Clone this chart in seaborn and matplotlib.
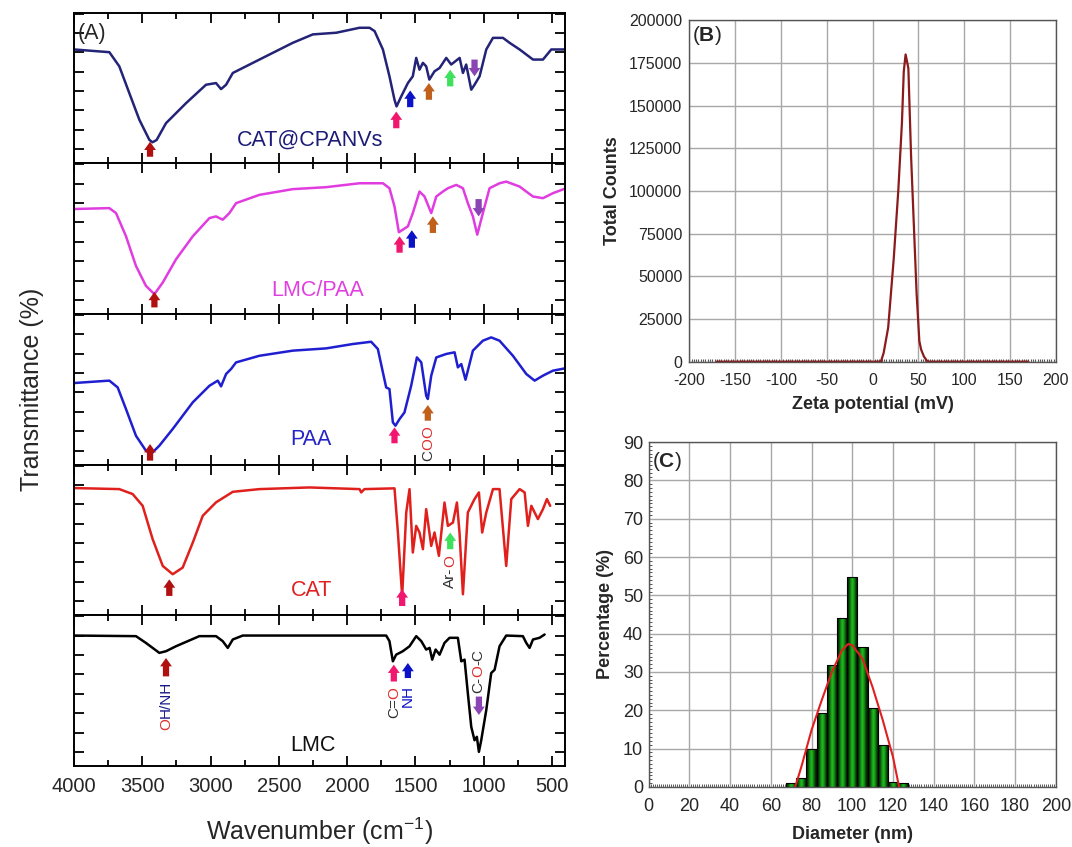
import numpy as np
import pandas as pd
import matplotlib
matplotlib.use("Agg")
import matplotlib.pyplot as plt
import seaborn as sns
from matplotlib.colors import LinearSegmentedColormap
from matplotlib.ticker import MultipleLocator, NullFormatter

sns.set_style("ticks")
plt.rcParams['font.family'] = ['Liberation Sans', 'DejaVu Sans']
plt.rcParams['mathtext.fontset'] = 'custom'
plt.rcParams['mathtext.rm'] = 'Liberation Sans'
plt.rcParams['mathtext.bf'] = 'Liberation Sans:bold'
plt.rcParams['mathtext.default'] = 'regular'

# ---------------- Panel A: FTIR spectra (arbitrary transmittance units) ----------------
cat_cpanvs_wn = [4000,3741,3668,3595,3521,3448,3425,3395,3326,3179,3033,2960,2923,2886,2837,2642,2398,2251,2080,1909,
                 1836,1799,1738,1690,1653,1638,1604,1555,1519,1494,1470,1445,1421,1398,1360,1323,1274,1238,1176,1152,
                 1128,1091,1067,1030,981,932,859,810,737,639,566,505,410]
cat_cpanvs_t = [75.6,73.8,64.4,46.7,28.9,15.6,14,15.5,26.7,40,52.2,53.3,49.3,52.2,60,68.9,80,85.6,86.7,90,
                90,87.8,75.6,57.8,42.2,37.8,44.4,53.3,57.8,70,62.2,66.7,64.4,55.6,61.1,63.3,70,65.6,70,60,
                65.6,48.9,52.2,57.8,75.6,83.3,83.3,80,75.6,68.9,68.9,75.6,75.6]

lmc_paa_wn = [4000,3741,3692,3619,3546,3473,3411,3350,3253,3130,3008,2960,2911,2862,2813,2642,2398,2154,1909,1738,
              1690,1653,1621,1592,1555,1519,1470,1433,1384,1347,1299,1262,1201,1152,1116,1079,1047,1006,957,884,
              835,737,639,566,493,414]
lmc_paa_t = [69.7,70.3,67,51.6,31.9,18.7,13.2,20.9,36.3,51.6,63.7,64.8,62.6,67,73.6,79.1,82.9,84.2,86.8,86.8,
             83.5,71.4,54.3,56,58.2,67,81.3,78,67,78,81.3,83.5,85.7,83.5,73.6,64.8,52.7,67,83.5,86.8,
             87.9,84.6,78,76.9,80.2,82.9]

paa_wn = [4000,3741,3680,3619,3546,3473,3436,3375,3277,3130,3008,2947,2923,2886,2850,2813,2642,2398,2154,1958,
          1824,1775,1738,1714,1690,1665,1646,1616,1580,1531,1489,1457,1421,1409,1384,1347,1274,1213,1189,1164,
          1133,1079,1006,945,884,786,688,627,566,493,407]
paa_t = [54.2,55.8,51.3,36.9,19.2,9.3,7.1,12.6,23.7,41.4,52.4,55.8,52,60.2,63.5,67.9,72.3,75.7,77.2,80.1,
         81.6,76.8,61.3,51.3,50.2,28.1,25.9,30.3,34.7,52.4,71.2,67.9,45.8,43.6,59.1,71.2,73.5,74.6,64.6,66.8,
         56.4,75.7,82.3,84.5,82.3,72.3,60.2,55.8,59.1,62.4,63.9]

cat_wn = [4000,3668,3570,3497,3424,3350,3277,3204,3130,3057,2960,2837,2642,2276,1909,1897,1873,1653,1628,1597,
          1567,1543,1519,1494,1470,1445,1421,1384,1360,1328,1287,1262,1225,1196,1177,1152,1116,1067,1035,1011,
          981,932,884,835,798,737,700,676,651,603,566,537,513]
cat_t = [84.5,83.8,80.5,72.7,50.6,32.8,27.3,31.7,48.3,66.1,75,82,83.8,84.9,83.8,81.6,83.8,84.3,55,12.9,
         68.3,83.8,41.7,59.4,55,43.9,70.5,46.1,55,39.5,74.9,59.4,61.6,74.9,55,14,68.3,77.2,81.6,55,
         68.3,83.8,83.8,32.8,77.2,83.8,81.6,59.4,72.7,63.9,70.5,77.2,72.7]

lmc_wn = [4000,3546,3473,3375,3326,3253,3082,2960,2911,2874,2837,2764,1714,1690,1665,1641,1592,1543,1494,1457,
          1421,1396,1377,1352,1323,1287,1250,1189,1164,1140,1116,1091,1067,1050,1035,1018,981,945,920,884,
          835,713,688,664,639,591,554]
lmc_t = [86.6,86.2,81.7,75.1,76.2,79.5,86.2,86.2,82.9,78.4,84,86.6,86.6,82.9,69.5,73.9,76.2,79.5,86.2,82.9,
         77.3,78.4,70.6,77.3,73.9,81.7,85.1,85.1,69.5,70.6,48.3,26,17.1,19.4,9.4,17.1,37.2,61.7,63.9,79.5,
         86.6,86.2,81.7,78.4,84,85.1,87.3]

sample_names = ["CAT@CPANVs", "LMC/PAA", "PAA", "CAT", "LMC"]
wn_tick_values = [4000, 3500, 3000, 2500, 2000, 1500, 1000, 500]

# ---------------- Panel B: zeta potential ----------------
zeta_mv = [-170, 9, 12, 17, 23, 28, 32, 34, 36, 39, 42, 45, 48, 51, 53, 56, 60, 170]
zeta_counts = [0, 0, 5000, 20000, 60000, 100000, 140000, 170000, 180000, 172000, 120000, 80000,
               40000, 12000, 7000, 3000, 0, 0]

# ---------------- Panel C: size distribution ----------------
diam_nm = [70, 75, 80, 85, 90, 95, 100, 105, 110, 115, 120, 125]
diam_pct = [1, 2.2, 9.8, 19.4, 31.8, 44, 54.9, 36.6, 20.5, 10.9, 1.3, 0.9]
fit_nm = [72, 75, 80, 85, 90, 95, 98, 100, 105, 110, 115, 120, 123]
fit_pct = [0, 5.2, 14.8, 22.6, 30, 35.7, 37.3, 37, 33.5, 26, 17.4, 7.8, 0]

# ======================================================================
fig = plt.figure(figsize=(10.72, 8.47), dpi=100)

DRED, PINK, BLUE, BROWN, GREEN, PURPLE = "#b01010", "#f0186e", "#0c12c8", "#c0601c", "#3ee05c", "#8a44b4"
TXT_RED, TXT_DARK, TXT_NAVY = "#e03030", "#303030", "#1a1a8a"

line_colors = ["#232378", "#e03ce0", "#1f1fd0", "#e0201c", "#000000"]
spectra = [(cat_cpanvs_wn, cat_cpanvs_t), (lmc_paa_wn, lmc_paa_t), (paa_wn, paa_t), (cat_wn, cat_t), (lmc_wn, lmc_t)]
label_pos = [(2271, 15.6), (2214, 15.4), (2263, 17.0), (2263, 16.2), (2250, 13.8)]
label_colors = ["#1c1c78", "#e040e0", "#2424c8", "#e02020", "#111111"]

arrows = [
    [(3443, 4.4, 14.4, DRED), (1640, 23.3, 34.4, PINK), (1538, 37.3, 48.4, BLUE),
     (1401, 42.2, 53.3, BROWN), (1245, 51.1, 62.2, GREEN), (1067, 68.9, 57.8, PURPLE)],
    [(3411, 4.4, 14.7, DRED), (1616, 40.7, 51.6, PINK), (1526, 44, 55.6, BLUE),
     (1372, 53.8, 64.8, BROWN), (1037, 76.3, 64.8, PURPLE)],
    [(3443, 2.7, 13.7, DRED), (1653, 14.2, 24.8, PINK), (1409, 29.2, 39.6, BROWN)],
    [(3302, 12.9, 23.9, DRED), (1597, 6.2, 17.3, PINK), (1245, 43.9, 55, GREEN)],
    [(3326, 59.5, 71.7, DRED), (1658, 56.1, 67.3, PINK), (1555, 58.4, 68.4, BLUE), (1035, 46.1, 33.9, PURPLE)],
]

vtexts = [
    [],
    [],
    [(1409, 2.7, [("C", TXT_DARK), ("O", TXT_RED), ("O", TXT_RED)])],
    [(1245, 18.4, [("Ar-", TXT_DARK), ("O", TXT_RED)])],
    [(3326, 23.8, [("O", TXT_RED), ("H/NH", TXT_NAVY)]),
     (1658, 31.6, [("C=", TXT_DARK), ("O", TXT_RED)]),
     (1555, 39.4, [("NH", BLUE)]),
     (1040, 48.3, [("C-", TXT_DARK), ("O", TXT_RED), ("-C", TXT_DARK)])],
]


def vertical_multicolor(ax, x, y, parts, size=11):
    prev = None
    for s, c in parts:
        if prev is None:
            prev = ax.text(x, y, s, color=c, rotation=90, ha="center", va="bottom", fontsize=size)
        else:
            prev = ax.annotate(s, xy=(0.5, 1.0), xycoords=prev, color=c, rotation=90,
                               ha="center", va="bottom", fontsize=size)


A_left, A_right, A_top, A_bottom = 0.069, 0.527, 0.985, 0.0956
h = (A_top - A_bottom) / 5
axesA = []
for i in range(5):
    ax = fig.add_axes([A_left, A_top - (i + 1) * h, A_right - A_left, h])
    axesA.append(ax)
    wn, tt = spectra[i]
    df = pd.DataFrame({"wn": wn, "t": tt})
    sns.lineplot(data=df, x="wn", y="t", ax=ax, color=line_colors[i], lw=1.8, estimator=None, sort=True)
    ax.set_xlim(4000, 405)
    ax.set_ylim(0, 100)
    ax.set_xticks(wn_tick_values)
    ax.xaxis.set_minor_locator(MultipleLocator(250))
    ax.set_yticks(np.arange(9.4, 100, 12.85))
    ax.tick_params(axis="both", which="both", direction="in", top=True, bottom=True, left=True, right=True,
                   color="black", width=1.3)
    ax.tick_params(axis="both", which="major", length=7)
    ax.tick_params(axis="x", which="minor", length=4)
    ax.set_yticklabels([])
    ax.set_xlabel("")
    ax.set_ylabel("")
    if i < 4:
        ax.set_xticklabels([])
    else:
        ax.set_xticklabels([str(v) for v in wn_tick_values], fontsize=14.5)
        ax.tick_params(axis="x", which="major", pad=8)
    for sp in ax.spines.values():
        sp.set_linewidth(1.4)
        sp.set_color("black")
    lx, ly = label_pos[i]
    ax.text(lx, ly, sample_names[i], color=label_colors[i], fontsize=15.5, ha="center", va="center")
    for (x, b, t, c) in arrows[i]:
        ax.annotate("", xy=(x, t), xytext=(x, b),
                    arrowprops=dict(arrowstyle="simple,head_length=0.6,head_width=0.85,tail_width=0.45",
                                    color=c, lw=0, shrinkA=0, shrinkB=0, mutation_scale=10))
    for (x, y, parts) in vtexts[i]:
        vertical_multicolor(ax, x, y, parts)

axesA[0].text(0.008, 0.86, "(A)", transform=axesA[0].transAxes, fontsize=15.5, ha="left", va="center")
fig.text(0.03, (A_top + A_bottom) / 2, "Transmittance (%)", rotation=90, fontsize=18, ha="center", va="center")
fig.text((A_left + A_right) / 2, 0.018, r"Wavenumber (cm$^{-1}$)", fontsize=18, ha="center", va="center")

# ---------------- Panel B ----------------
GRID = "#a8a8a8"
axB = fig.add_axes([0.643, 0.573, 0.985 - 0.643, 0.976 - 0.573])
dfz = pd.DataFrame({"mv": zeta_mv, "counts": zeta_counts})
sns.lineplot(data=dfz, x="mv", y="counts", ax=axB, color="#8b1a1a", lw=1.6, estimator=None, sort=False)
axB.set_xlim(-200, 200)
axB.set_ylim(0, 200000)
axB.set_xticks(np.arange(-200, 201, 50))
axB.set_yticks(np.arange(0, 200001, 25000))
axB.set_yticklabels([str(v) for v in range(0, 200001, 25000)], fontsize=11.5)
axB.set_xticklabels([str(v) for v in range(-200, 201, 50)], fontsize=11.5)
axB.xaxis.set_minor_locator(MultipleLocator(2.5))
axB.grid(True, which="major", color=GRID, lw=1)
axB.set_axisbelow(True)
axB.tick_params(axis="both", which="major", direction="in", length=0)
axB.tick_params(axis="y", which="major", pad=5)
axB.tick_params(axis="x", which="major", pad=8)
axB.tick_params(axis="x", which="minor", direction="in", length=2.5, color="#555555", width=0.8)
for sp in axB.spines.values():
    sp.set_color("#555555")
    sp.set_linewidth(1.0)
axB.set_xlabel("Zeta potential (mV)", fontsize=13, fontweight="bold", labelpad=6)
axB.set_ylabel("Total Counts", fontsize=13, fontweight="bold", labelpad=6)
axB.text(0.008, 0.955, r"($\bf{B}$)", transform=axB.transAxes, fontsize=15, ha="left", va="center")

# ---------------- Panel C ----------------
axC = fig.add_axes([0.605, 0.071, 0.985 - 0.605, 0.478 - 0.071])
dfc = pd.DataFrame({"d": diam_nm, "p": diam_pct})
sns.histplot(data=dfc, x="d", weights="p", binwidth=5, binrange=(67.5, 127.5), ax=axC,
             edgecolor="black", linewidth=0.8, alpha=1, zorder=2)
cmap = LinearSegmentedColormap.from_list("gbar", ["#22c022", "#138a13", "#063806", "#021402"])
grad = np.abs(np.linspace(-1, 1, 64)).reshape(1, -1)
for p in list(axC.patches):
    x0, w, hh = p.get_x(), p.get_width(), p.get_height()
    im = axC.imshow(grad, extent=[x0, x0 + w, 0, hh], aspect="auto", cmap=cmap, zorder=2.1,
                    interpolation="bicubic")
    im.set_clip_path(p)
    p.set_facecolor("none")
    p.set_zorder(2.2)
dff = pd.DataFrame({"d": fit_nm, "p": fit_pct})
sns.lineplot(data=dff, x="d", y="p", ax=axC, color="#e02020", lw=1.5, estimator=None, sort=True, zorder=3)
axC.set_xlim(0, 200)
axC.set_ylim(0, 90)
axC.set_aspect("auto")
axC.set_xticks(np.arange(0, 201, 20))
axC.set_yticks(np.arange(0, 91, 10))
axC.set_xticklabels([str(v) for v in range(0, 201, 20)], fontsize=13)
axC.set_yticklabels([str(v) for v in range(0, 91, 10)], fontsize=13)
axC.xaxis.set_minor_locator(MultipleLocator(1))
axC.yaxis.set_minor_locator(MultipleLocator(1))
axC.grid(True, which="major", color=GRID, lw=1)
axC.set_axisbelow(True)
axC.tick_params(axis="both", which="major", direction="in", length=0)
axC.tick_params(axis="y", which="major", pad=4)
axC.tick_params(axis="x", which="major", pad=8)
axC.tick_params(axis="both", which="minor", direction="in", length=2.5, color="#555555", width=0.7)
for sp in axC.spines.values():
    sp.set_color("#555555")
    sp.set_linewidth(1.0)
axC.set_xlabel("Diameter (nm)", fontsize=13, fontweight="bold", labelpad=8)
axC.set_ylabel("Percentage (%)", fontsize=13, fontweight="bold", labelpad=6)
axC.text(0.008, 0.945, r"($\bf{C}$)", transform=axC.transAxes, fontsize=15, ha="left", va="center")

fig.savefig("out.png", dpi=100)
